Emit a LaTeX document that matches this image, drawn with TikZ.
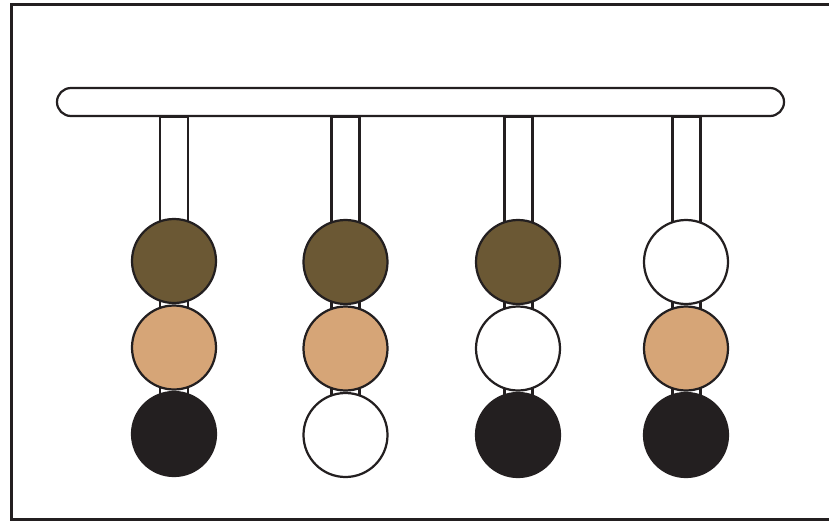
\documentclass[tikz,border=0pt]{standalone}
\usepackage{tikz}
\usetikzlibrary{positioning,calc}
\definecolor{BeadBrown}{RGB}{107,88,52}
\definecolor{BeadTan}{RGB}{214,165,119}
\definecolor{BeadBlack}{RGB}{35,31,32}
\tikzset{
  bead/.style={circle,draw=BeadBlack,line width=1.9pt,minimum size=2.52cm,inner sep=0pt},
  rod/.style={draw=BeadBlack,fill=white,line width=1.9pt},
  bar/.style={draw=BeadBlack,fill=white,line width=1.9pt,rounded corners=0.42cm,
    minimum width=21.81cm,minimum height=0.84cm,inner sep=0pt},
}
\tikzset{brown/.style={bead,fill=BeadBrown}, tan/.style={bead,fill=BeadTan},
  dark/.style={bead,fill=BeadBlack}, pale/.style={bead,fill=white}}

\begin{document}
\begin{tikzpicture}[x=0.03cm,y=-0.03cm]
\useasboundingbox (0,0) rectangle (829,521);
\clip (0,0) rectangle (829,521);
\draw[draw=BeadBlack,line width=1.9pt] (11.5,4.5) rectangle (845,519.5);
\node[bar] (bar) at (420.5,102) {};
% rods
\coordinate (ra) at (174,434);
\coordinate (rb) at (345.5,434);
\coordinate (rc) at (518.5,434);
\coordinate (rd) at (686.5,434);
\draw[rod] ($(bar.south -| ra)+(-14,0)$) rectangle ($(ra)+(14,0)$);
\draw[rod] ($(bar.south -| rb)+(-14,0)$) rectangle ($(rb)+(14,0)$);
\draw[rod] ($(bar.south -| rc)+(-14,0)$) rectangle ($(rc)+(14,0)$);
\draw[rod] ($(bar.south -| rd)+(-14,0)$) rectangle ($(rd)+(14,0)$);
% beads
\node[brown] (a1) at (174,261) {};
\node[tan] (a2) at (174,347.5) {};
\node[dark] (a3) at (174,434) {};
\node[brown] (b1) at (345.5,262) {};
\node[tan] (b2) at (345.5,348.5) {};
\node[pale] (b3) at (345.5,435) {};
\node[brown] (c1) at (518,262) {};
\node[pale] (c2) at (518,348.5) {};
\node[dark] (c3) at (518,435) {};
\node[pale] (d1) at (686,262) {};
\node[tan] (d2) at (686,348.5) {};
\node[dark] (d3) at (686,435) {};
\end{tikzpicture}
\end{document}
